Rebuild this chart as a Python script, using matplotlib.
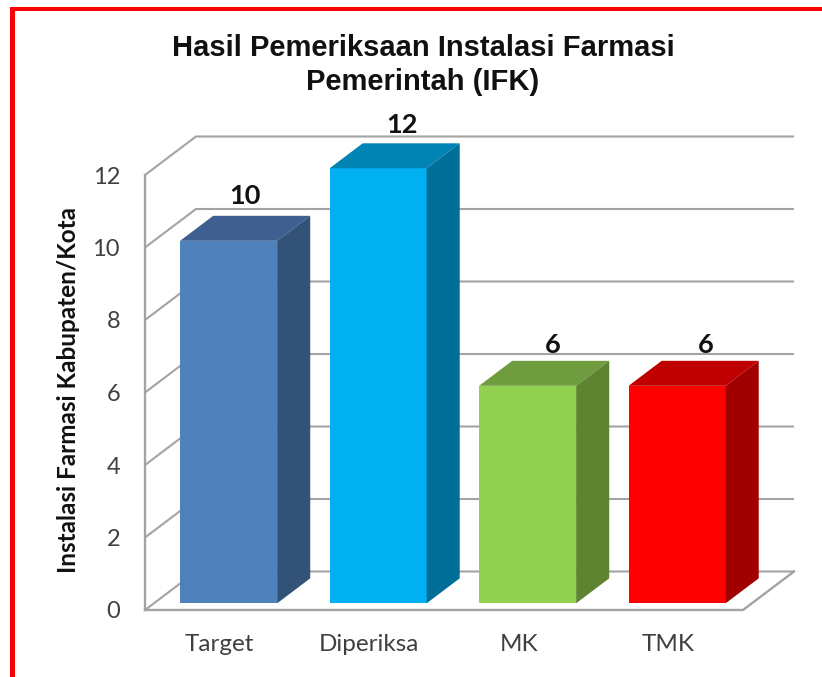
import matplotlib
matplotlib.use('Agg')
import matplotlib.pyplot as plt
from matplotlib.patches import Polygon, Rectangle

categories = ['Target', 'Diperiksa', 'MK', 'TMK']
values = [10, 12, 6, 6]
yticks = [0, 2, 4, 6, 8, 10, 12]

front_colors = ['#4F81BD', '#00B0F0', '#92D050', '#FF0000']
top_colors = ['#3E5F8F', '#0084B4', '#6F9C3E', '#BF0000']
side_colors = ['#335278', '#006F98', '#5E8430', '#A00000']

title = 'Hasil Pemeriksaan Instalasi Farmasi\nPemerintah (IFK)'
ylabel = 'Instalasi Farmasi Kabupaten/Kota'

W, H = 822, 677
GRID = '#a3a3a3'
TEXT = '#404040'

# depth of the fake 3D box, in data units
DX = 51 / 149.5
DY = 38.5 / 36.25
BAR_W = 0.649
D0, D1 = 0.174, 0.823

# value labels are hand placed in the original, so nudge them (points)
label_dx = [0, 5, 6, 9]
label_dy = [14.5, 13.5, 11.5, 11.5]


def proj(x, v, d):
    return (x + d * DX, v + d * DY)


fig = plt.figure(figsize=(W / 100, H / 100), dpi=100, facecolor='white')
ax = fig.add_axes([145 / W, (H - 610) / H, 598 / W, 435 / H])
ax.set_xlim(0, len(categories))
ax.set_ylim(0, 12)
ax.patch.set_visible(False)
for s in ax.spines.values():
    s.set_visible(False)

# side wall + back wall gridlines
for t in yticks:
    xs = [0, proj(0, t, 1)[0], proj(len(categories), t, 1)[0]]
    ys = [t, t + DY, t + DY]
    ax.plot(xs, ys, color=GRID, lw=1.5, clip_on=False, zorder=1, solid_capstyle='butt')

# floor front edge and right edge, left axis
n = len(categories)
ax.plot([0, n, n + DX], [0, 0, DY], color=GRID, lw=1.7, clip_on=False, zorder=1.5)
ax.plot([0, 0], [0, 12], color=GRID, lw=1.7, clip_on=False, zorder=1.5)

# bars
for i, v in enumerate(values):
    x0 = i + 0.5 - BAR_W / 2
    x1 = x0 + BAR_W
    fl = proj(x0, 0, D0)
    fr = proj(x1, 0, D0)
    tl = proj(x0, v, D0)
    tr = proj(x1, v, D0)
    bl = proj(x0, v, D1)
    br = proj(x1, v, D1)
    br0 = proj(x1, 0, D1)
    ax.add_patch(Polygon([fl, fr, tr, tl], fc=front_colors[i], ec='none', clip_on=False, zorder=3))
    ax.add_patch(Polygon([tl, tr, br, bl], fc=top_colors[i], ec='none', clip_on=False, zorder=3))
    ax.add_patch(Polygon([fr, br0, br, tr], fc=side_colors[i], ec='none', clip_on=False, zorder=3))
    lx, ly = proj(i + 0.5, v, (D0 + D1) / 2)
    ax.annotate(str(v), (lx, proj(0, v, D1)[1]), xytext=(label_dx[i], label_dy[i]), textcoords='offset points',
                ha='center', va='center', fontsize=19.5, fontweight='bold', family='Lato',
                color='#111111', annotation_clip=False, zorder=5)

ax.set_yticks(yticks)
ax.set_xticks([i + 0.5 for i in range(n)])
ax.set_xticklabels(categories)
ax.tick_params(axis='y', length=0, pad=18, labelsize=17, labelcolor=TEXT)
ax.tick_params(axis='x', length=0, pad=17, labelsize=17.5, labelcolor=TEXT)
for lab in ax.get_xticklabels() + ax.get_yticklabels():
    lab.set_family('Lato')

fig.text(69 / W, 1 - 390 / H, ylabel, rotation=90, ha='center', va='center',
         fontsize=17.5, fontweight='bold', family='Lato', color='#111111')
fig.text(423 / W, 1 - 65 / H, title, ha='center', va='center', fontsize=21,
         fontweight='bold', family='Liberation Sans', color='#111111', linespacing=1.3)

# red frame, top and left only
fig.add_artist(Rectangle((10 / W, 1 - 11 / H), 812 / W, 4 / H, transform=fig.transFigure, fc='#FF0000', ec='none'))
fig.add_artist(Rectangle((10 / W, 0), 5 / W, 1 - 7 / H, transform=fig.transFigure, fc='#FF0000', ec='none'))

fig.savefig('out.png', dpi=100)
